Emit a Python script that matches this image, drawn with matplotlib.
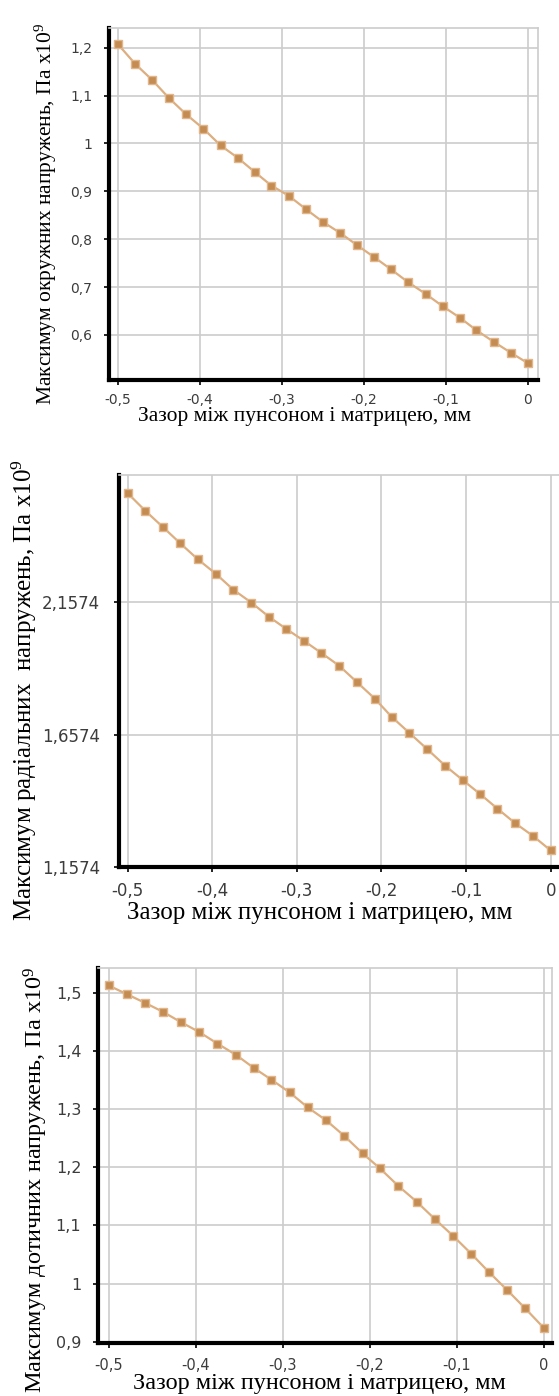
import numpy as np
import matplotlib
matplotlib.use('Agg')
import matplotlib.pyplot as plt

plt.rcParams['mathtext.fontset'] = 'custom'
plt.rcParams['mathtext.rm'] = 'Liberation Serif'
plt.rcParams['mathtext.default'] = 'rm'

## data (stress in Pa x10^9 vs gap in mm)
gap = [-0.5, -0.479, -0.458, -0.438, -0.417, -0.396, -0.375, -0.354, -0.333,
       -0.313, -0.292, -0.271, -0.25, -0.229, -0.208, -0.188, -0.167, -0.146,
       -0.125, -0.104, -0.083, -0.063, -0.042, -0.021, 0.0]

hoop = [1.207, 1.166, 1.132, 1.095, 1.061, 1.031, 0.996, 0.970, 0.940, 0.912,
        0.891, 0.863, 0.836, 0.813, 0.787, 0.763, 0.737, 0.710, 0.686, 0.660,
        0.636, 0.610, 0.586, 0.563, 0.541]

radial = [2.570, 2.503, 2.441, 2.381, 2.320, 2.266, 2.205, 2.157, 2.103, 2.058,
          2.013, 1.966, 1.918, 1.856, 1.794, 1.725, 1.664, 1.603, 1.541, 1.486,
          1.432, 1.378, 1.323, 1.275, 1.220]

shear = [1.513, 1.498, 1.483, 1.468, 1.450, 1.433, 1.413, 1.394, 1.371, 1.351,
         1.329, 1.303, 1.281, 1.254, 1.224, 1.198, 1.168, 1.141, 1.111, 1.082,
         1.051, 1.020, 0.989, 0.957, 0.924]

xticks = [-0.5, -0.4, -0.3, -0.2, -0.1, 0.0]
xtick_labels = ['-0,5', '-0,4', '-0,3', '-0,2', '-0,1', '0']
yticks_hoop = [0.6, 0.7, 0.8, 0.9, 1.0, 1.1, 1.2]
ylabels_hoop = ['0,6', '0,7', '0,8', '0,9', '1', '1,1', '1,2']
yticks_radial = [1.1574, 1.6574, 2.1574]
ylabels_radial = ['1,1574', '1,6574', '2,1574']
yticks_shear = [0.9, 1.0, 1.1, 1.2, 1.3, 1.4, 1.5]
ylabels_shear = ['0,9', '1', '1,1', '1,2', '1,3', '1,4', '1,5']

xlabel = 'Зазор між пунсоном і матрицею, мм'
ylab_hoop = 'Максимум окружних напружень, Па x10$^{9}$'
ylab_radial = 'Максимум радіальних  напружень, Па x10$^{9}$'
ylab_shear = 'Максимум дотичних напружень, Па x10$^{9}$'

W, H = 559, 1396
fig = plt.figure(figsize=(W / 100, H / 100), dpi=100)


def box(l, t, r, b):
    return [l / W, 1 - b / H, (r - l) / W, (b - t) / H]


def panel(rect, xlim, ylim, yt, ytl, y, fs_x, fs_y, fs_lab,
          ylab, ylab_pos, xlab_pos, xpad, ypad):
    ax = fig.add_axes(rect)
    ax.plot(gap, y, '-s', color='#dcae80', lw=1.6, ms=5.5,
            mfc='#c48b52', mec='#e0b68a', mew=1.0, zorder=3)
    ax.set_xlim(*xlim)
    ax.set_ylim(*ylim)
    ax.set_xticks(xticks)
    ax.set_xticklabels(xtick_labels, fontsize=fs_x, color='#3c3c3c')
    ax.set_yticks(yt)
    ax.set_yticklabels(ytl, fontsize=fs_y, color='#3c3c3c')
    ax.grid(True, color='#cccccc', lw=1.2)
    ax.set_axisbelow(True)
    for s in ['left', 'bottom']:
        ax.spines[s].set_linewidth(3)
        ax.spines[s].set_color('black')
    for s in ['top', 'right']:
        ax.spines[s].set_linewidth(1.2)
        ax.spines[s].set_color('#cccccc')
    ax.tick_params(direction='out', length=3.5, width=1.2, color='black')
    ax.tick_params(axis='x', pad=xpad)
    ax.tick_params(axis='y', pad=ypad)
    fig.text(ylab_pos[0] / W, 1 - ylab_pos[1] / H, ylab, rotation=90,
             ha='center', va='center', fontsize=fs_lab, family='Liberation Serif')
    fig.text(xlab_pos[0] / W, 1 - xlab_pos[1] / H, xlabel,
             ha='center', va='center', fontsize=fs_lab, family='Liberation Serif')
    return ax


panel(box(109, 28, 538, 380), (-0.511, 0.0122), (0.506, 1.2411),
      yticks_hoop, ylabels_hoop, hoop, 10, 10, 15.5,
      ylab_hoop, (46, 214), (305, 416), 6, 8.5)

panel(box(119, 475, 561, 867), (-0.5103, 0.0122), (1.1574, 2.6389),
      yticks_radial, ylabels_radial, radial, 12, 12, 18,
      ylab_radial, (24, 690), (320, 913), 7, 10)

panel(box(98, 968, 552, 1343), (-0.5122, 0.0097), (0.8976, 1.5431),
      yticks_shear, ylabels_shear, shear, 10.5, 11.5, 17.5,
      ylab_shear, (36, 1180), (319, 1384), 7, 8.5)

fig.savefig('out.png', dpi=100)
